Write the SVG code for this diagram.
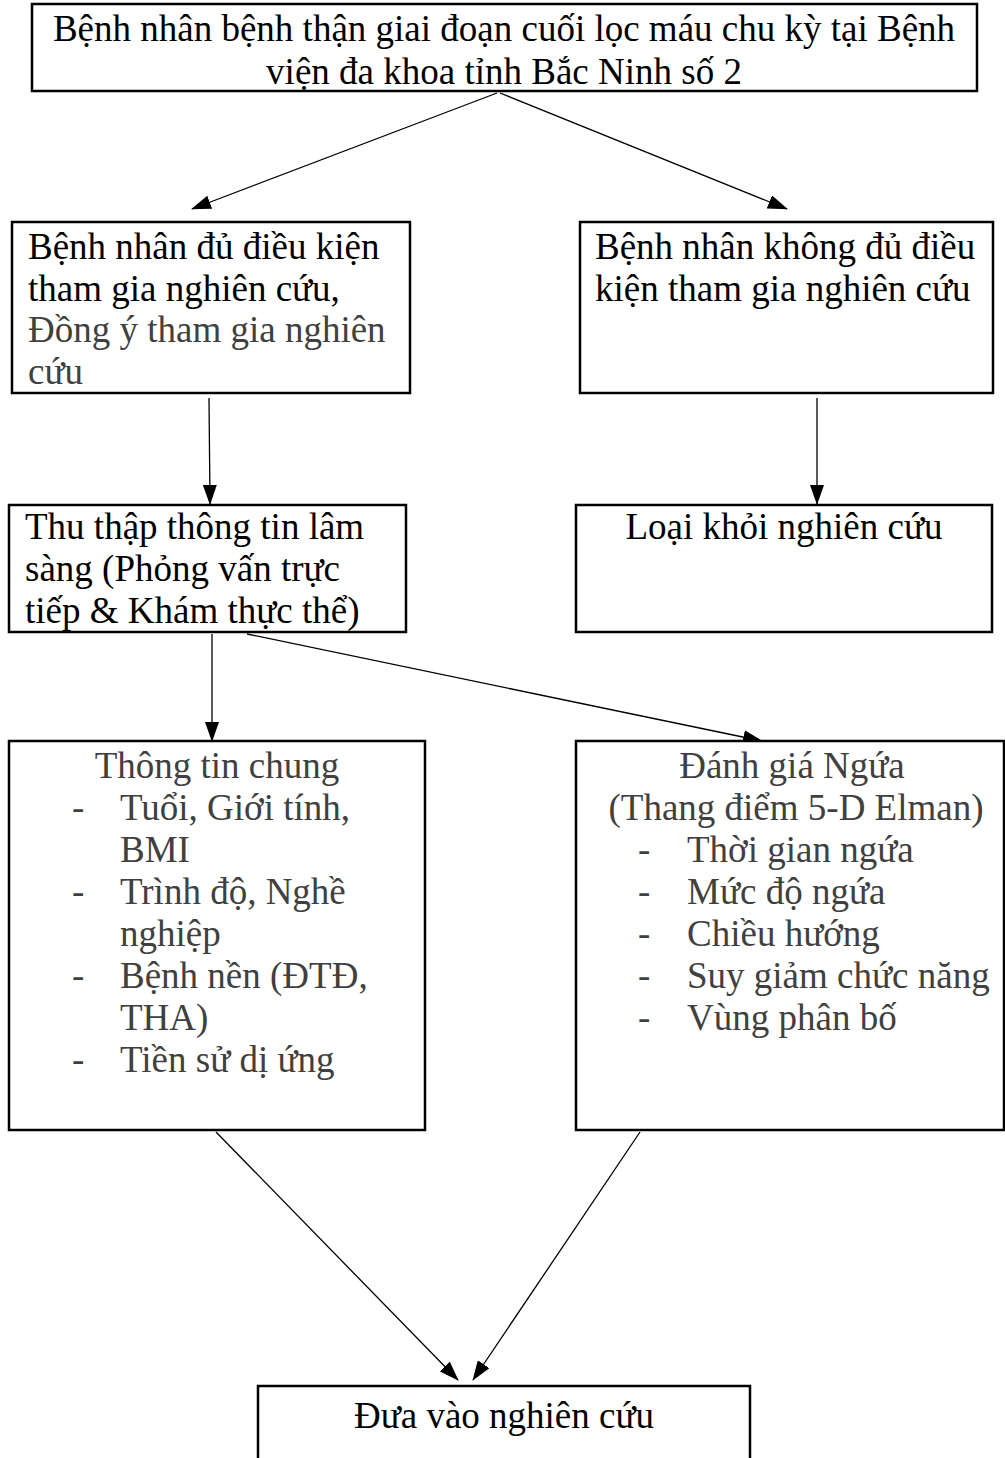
<svg xmlns="http://www.w3.org/2000/svg" width="1005" height="1458" viewBox="0 0 1005 1458">
<style>
.box{fill:#fff;stroke:#000;stroke-width:2.5}
.t{font-family:"Liberation Serif","Times New Roman",serif;font-size:37px;fill:#000}
.g{fill:#404040}
.c{text-anchor:middle}
.ln{stroke:#000;stroke-width:1.3;fill:none}
</style>
<defs>
<marker id="ah" markerWidth="20" markerHeight="14" refX="19" refY="7" orient="auto" markerUnits="userSpaceOnUse">
<path d="M0,0 L20,7 L0,14 Z" fill="#000"/>
</marker>
</defs>
<rect width="1005" height="1458" fill="#fff"/>
<g id="connectors">
<line class="ln" x1="497" y1="93" x2="192" y2="209" marker-end="url(#ah)"/>
<line class="ln" x1="500" y1="93" x2="787" y2="209" marker-end="url(#ah)"/>
<line class="ln" x1="209" y1="398" x2="210" y2="504" marker-end="url(#ah)"/>
<line class="ln" x1="817" y1="398" x2="817" y2="504" marker-end="url(#ah)"/>
<line class="ln" x1="212" y1="634" x2="212" y2="741" marker-end="url(#ah)"/>
<line class="ln" x1="247" y1="634" x2="762" y2="741" marker-end="url(#ah)"/>
<line class="ln" x1="216" y1="1132" x2="458" y2="1380" marker-end="url(#ah)"/>
<line class="ln" x1="640" y1="1132" x2="473" y2="1380" marker-end="url(#ah)"/>
</g>
<g id="n1">
<rect class="box" x="32" y="4" width="945" height="87"/>
<text class="t c" x="504" y="41">Bệnh nhân bệnh thận giai đoạn cuối lọc máu chu kỳ tại Bệnh</text>
<text class="t c" x="504" y="84">viện đa khoa tỉnh Bắc Ninh số 2</text>
</g>
<g id="n2">
<rect class="box" x="12" y="222" width="398" height="171"/>
<text class="t" x="28" y="259">Bệnh nhân đủ điều kiện</text>
<text class="t" x="28" y="301">tham gia nghiên cứu,</text>
<text class="t g" x="28" y="342">Đồng ý tham gia nghiên</text>
<text class="t g" x="28" y="384">cứu</text>
</g>
<g id="n3">
<rect class="box" x="580" y="222" width="413" height="171"/>
<text class="t" x="595" y="259">Bệnh nhân không đủ điều</text>
<text class="t" x="595" y="301">kiện tham gia nghiên cứu</text>
</g>
<g id="n4">
<rect class="box" x="9" y="505" width="397" height="127"/>
<text class="t" x="25" y="539">Thu thập thông tin lâm</text>
<text class="t" x="25" y="581">sàng (Phỏng vấn trực</text>
<text class="t" x="25" y="623">tiếp &amp; Khám thực thể)</text>
</g>
<g id="n5">
<rect class="box" x="576" y="505" width="416" height="127"/>
<text class="t c" x="784" y="539">Loại khỏi nghiên cứu</text>
</g>
<g id="n6">
<rect class="box" x="9" y="741" width="416" height="389"/>
<text class="t g c" x="217" y="778">Thông tin chung</text>
<text class="t g" x="72" y="820">-</text><text class="t g" x="120" y="820">Tuổi, Giới tính,</text>
<text class="t g" x="120" y="862">BMI</text>
<text class="t g" x="72" y="904">-</text><text class="t g" x="120" y="904">Trình độ, Nghề</text>
<text class="t g" x="120" y="946">nghiệp</text>
<text class="t g" x="72" y="988">-</text><text class="t g" x="120" y="988">Bệnh nền (ĐTĐ,</text>
<text class="t g" x="120" y="1030">THA)</text>
<text class="t g" x="72" y="1072">-</text><text class="t g" x="120" y="1072">Tiền sử dị ứng</text>
</g>
<g id="n7">
<rect class="box" x="576" y="741" width="428" height="389"/>
<text class="t g c" x="792" y="778">Đánh giá Ngứa</text>
<text class="t g c" x="796" y="820">(Thang điểm 5-D Elman)</text>
<text class="t g" x="638" y="862">-</text><text class="t g" x="687" y="862">Thời gian ngứa</text>
<text class="t g" x="638" y="904">-</text><text class="t g" x="687" y="904">Mức độ ngứa</text>
<text class="t g" x="638" y="946">-</text><text class="t g" x="687" y="946">Chiều hướng</text>
<text class="t g" x="638" y="988">-</text><text class="t g" x="687" y="988">Suy giảm chức năng</text>
<text class="t g" x="638" y="1030">-</text><text class="t g" x="687" y="1030">Vùng phân bố</text>
</g>
<g id="n8">
<rect class="box" x="258" y="1386" width="492" height="80"/>
<text class="t c" x="504" y="1428">Đưa vào nghiên cứu</text>
</g>
</svg>
